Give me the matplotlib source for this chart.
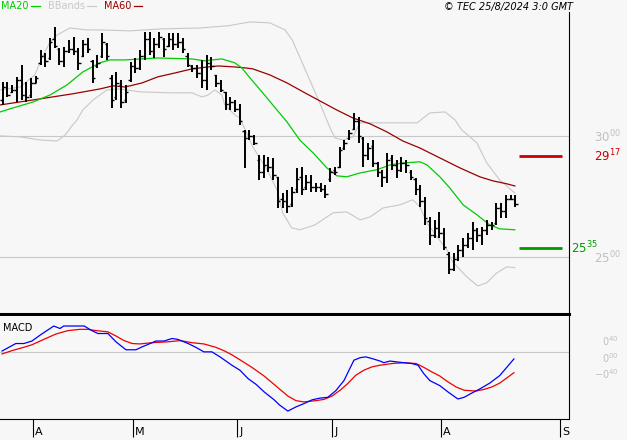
import matplotlib
matplotlib.use('Agg')
import matplotlib.pyplot as plt
from matplotlib.transforms import ScaledTranslation
import numpy as np

plt.rcParams['font.family'] = ['DejaVu Sans']

# ---------------- data (bar index = trading day, 21 Mar 2024 .. 23 Aug 2024) ----------------
opens = [31.5, 32.0, 31.8, 31.9, 32.3, 31.7, 31.7, 32.2, 33.0, 33.3,
         33.2, 34.0, 33.6, 33.1, 33.5, 33.6, 33.5, 33.3, 33.8, 33.1,
         32.9, 33.3, 33.8, 32.4, 31.6, 32.1, 31.5, 32.3, 32.9, 32.8,
         33.3, 34.0, 33.5, 33.8, 34.0, 33.7, 34.0, 33.8, 33.9, 33.3,
         32.9, 32.8, 32.6, 32.3, 33.0, 32.5, 32.2, 31.8, 31.3, 31.4,
         31.1, 30.2, 29.9, 30.0, 29.0, 28.5, 28.8, 28.7, 28.3, 27.4,
         27.3, 27.2, 27.8, 28.3, 27.9, 28.1, 27.9, 27.9, 27.8, 28.2,
         28.6, 28.7, 29.5, 29.9, 30.3, 30.6, 29.9, 29.2, 29.6, 28.9,
         28.5, 28.3, 29.1, 28.8, 28.6, 28.9, 28.5, 28.2, 27.8, 27.3,
         26.5, 25.9, 26.2, 26.0, 25.1, 24.5, 24.9, 25.3, 25.5, 25.8,
         26.1, 25.9, 26.1, 26.3, 26.4, 27.0, 26.9, 27.4, 27.4]
highs = [32.23, 32.23, 32.11, 32.44, 32.93, 32.23, 32.40, 32.48, 33.55, 33.43,
         34.05, 34.50, 33.64, 33.68, 33.97, 34.09, 33.64, 33.97, 34.05, 33.14,
         33.35, 34.26, 33.84, 32.52, 32.65, 32.31, 32.11, 33.06, 33.22, 33.55,
         34.30, 34.30, 34.05, 34.30, 34.05, 34.26, 34.26, 34.26, 34.05, 33.43,
         32.93, 32.93, 33.14, 33.35, 33.26, 32.52, 32.31, 31.82, 31.61, 31.49,
         31.32, 30.25, 30.25, 30.04, 29.22, 29.22, 29.13, 29.09, 28.31, 27.65,
         27.77, 27.89, 28.68, 28.72, 28.39, 28.39, 28.06, 28.06, 27.98, 28.68,
         28.72, 29.55, 29.83, 30.25, 30.95, 30.79, 29.96, 29.71, 29.83, 28.93,
         28.60, 29.30, 29.22, 29.01, 29.13, 29.01, 28.60, 28.27, 27.98, 27.48,
         26.65, 26.53, 26.86, 26.20, 25.21, 25.17, 25.50, 25.79, 25.99, 26.45,
         26.20, 26.24, 26.53, 26.45, 27.23, 27.23, 27.56, 27.56, 27.56]
lows = [31.28, 31.61, 31.78, 31.41, 31.49, 31.41, 31.57, 32.19, 32.93, 32.85,
        33.14, 33.64, 32.93, 32.85, 33.43, 33.35, 32.73, 33.26, 33.43, 32.19,
        32.81, 33.22, 33.14, 31.16, 31.49, 31.16, 31.36, 32.23, 32.60, 32.73,
        33.14, 33.35, 33.22, 33.64, 33.26, 33.68, 33.55, 33.64, 33.43, 32.85,
        32.65, 32.40, 31.98, 31.90, 32.73, 32.03, 31.82, 31.07, 31.07, 30.99,
        30.45, 28.68, 29.83, 29.63, 28.18, 28.27, 28.51, 28.18, 27.03, 27.03,
        26.82, 27.07, 27.65, 27.56, 27.77, 27.69, 27.69, 27.69, 27.44, 28.10,
        28.39, 28.68, 29.42, 29.83, 30.25, 29.71, 28.72, 29.01, 28.72, 28.31,
        27.89, 28.06, 28.60, 28.27, 28.51, 28.47, 28.18, 27.56, 27.07, 26.32,
        25.50, 25.79, 25.79, 25.29, 24.30, 24.42, 24.84, 25.00, 25.37, 25.29,
        25.62, 25.50, 25.91, 26.12, 26.32, 26.61, 26.61, 27.36, 27.07]
closes = [32.0, 31.7, 31.9, 32.3, 31.7, 31.6, 32.2, 32.4, 33.3, 33.1,
          33.9, 33.7, 33.1, 33.5, 33.6, 33.5, 33.0, 33.8, 33.6, 32.4,
          33.0, 33.9, 33.3, 31.5, 32.2, 31.4, 31.8, 32.9, 32.8, 33.3,
          34.0, 33.5, 33.8, 34.1, 33.6, 34.0, 33.8, 33.9, 33.6, 32.95,
          32.8, 32.6, 32.3, 33.0, 32.9, 32.2, 31.9, 31.3, 31.4, 31.1,
          30.6, 29.9, 30.0, 29.7, 28.5, 28.8, 28.7, 28.4, 27.3, 27.3,
          27.1, 27.7, 28.2, 27.8, 28.1, 27.9, 27.9, 27.8, 27.6, 28.5,
          28.5, 29.4, 29.7, 30.1, 30.6, 30.0, 29.2, 29.5, 28.9, 28.5,
          28.3, 29.0, 28.8, 28.6, 28.9, 28.8, 28.3, 27.8, 27.3, 26.6,
          25.9, 26.2, 26.0, 25.4, 24.5, 24.9, 25.3, 25.5, 25.8, 26.1,
          25.9, 26.1, 26.3, 26.3, 27.0, 26.9, 27.4, 27.4, 27.2]

ma20_x = [-0.5, 1.6, 6.4, 10, 13.6, 16.9, 20.5, 22.6, 25.8, 32.7, 39.9, 42.6, 44.1,
          46.2, 48.9, 50.4, 52.1, 54.8, 57.8, 59.9, 62.6, 65.4, 68.3, 70.4, 72.5,
          75.3, 78.8, 81.6, 84.3, 87.9, 89.4, 92.1, 94.2, 97, 99.9, 102.6, 104.7, 107.9]
ma20 = [30.99, 31.12, 31.40, 31.69, 32.11, 32.64, 33.02, 33.14, 33.14, 33.22, 33.18,
        33.10, 33.14, 33.18, 33.02, 32.81, 32.40, 31.78, 31.07, 30.58, 29.83, 29.30,
        28.68, 28.35, 28.31, 28.47, 28.60, 28.80, 28.88, 28.93, 28.80, 28.31, 27.85,
        27.15, 26.74, 26.32, 26.16, 26.12]

ma60_x = [-0.5, 7.9, 14.8, 20.5, 23.3, 25.8, 29.4, 32.7, 36.3, 39.9, 43.3, 45.4, 48.9,
          51.1, 52.7, 56.3, 59.9, 63.3, 66.8, 70.4, 73.8, 77.4, 80.9, 84.3, 87.9, 92.1,
          96.3, 100.5, 103.3, 106.2, 107.9]
ma60 = [31.28, 31.53, 31.74, 31.94, 32.07, 32.02, 32.19, 32.44, 32.60, 32.77, 32.85,
        32.89, 32.85, 32.81, 32.77, 32.52, 32.19, 31.82, 31.45, 31.07, 30.74, 30.50,
        30.17, 29.79, 29.50, 29.09, 28.68, 28.31, 28.14, 28.02, 27.93]

bb_up_x = [-0.5, 3.7, 6.8, 8.3, 10, 11.5, 14.2, 17.8, 20.5, 26.8, 33.2, 41.6, 47.5, 52.1,
           56.3, 59.5, 61, 62.6, 64.7, 66.8, 68.9, 70, 71.7, 73.8, 75.3, 80.1, 87.3, 90,
           93.2, 95.3, 96.7, 99.9, 102, 104.7, 107.9]
bb_up = [31.90, 32.02, 32.52, 33.22, 33.88, 34.17, 34.46, 34.38, 34.38, 34.34, 34.42,
         34.46, 34.55, 34.71, 34.67, 34.38, 33.97, 33.26, 32.31, 31.36, 30.37, 29.92,
         29.83, 29.96, 30.54, 30.54, 30.54, 30.95, 30.99, 30.66, 30.25, 29.71, 28.88,
         28.18, 27.64]

bb_lo_x = [-0.5, 3.7, 7.9, 11.5, 13.2, 14.6, 15.7, 16.9, 19.1, 22, 24.7, 28.9, 35.3, 39.9,
           42, 43.3, 44.7, 46.2, 46.8, 48.9, 50, 52.7, 55.7, 57.8, 59, 60.9, 62.6, 65.8,
           69.6, 72.5, 75.3, 77.4, 80.1, 83.7, 86.4, 87.9, 89.4, 91.5, 93.6, 94.8, 97.8,
           100.1, 102, 104.1, 106.2, 107.9]
bb_lo = [30.00, 29.96, 29.83, 29.79, 30.04, 30.41, 30.66, 31.07, 31.49, 31.90, 31.94,
         31.82, 31.78, 31.78, 31.61, 31.69, 31.90, 31.69, 31.28, 30.87, 30.74, 29.55,
         28.60, 27.77, 26.82, 26.20, 26.12, 26.32, 26.82, 26.86, 26.53, 26.65, 27.02,
         27.15, 27.36, 27.07, 26.40, 25.83, 25.29, 24.79, 24.17, 23.80, 23.93, 24.34,
         24.59, 24.55]

macd_x = [-0.1, 2.8, 4.5, 6.2, 7.9, 10.8, 12.1, 12.9, 17.2, 18.8, 20.1, 22.2, 23.9, 26.0,
          28.1, 29.4, 31.1, 32.3, 34.0, 35.7, 36.9, 39.1, 40.7, 42.4, 44.1, 45.8, 48.3,
          50.0, 51.7, 53.4, 55.1, 57.2, 58.4, 60.1, 61.8, 63.5, 65.2, 66.8, 68.5, 70.2,
          71.9, 74.0, 75.3, 76.5, 77.8, 79.5, 80.3, 81.6, 83.7, 86.2, 87.5, 88.7, 90.0,
          92.1, 93.8, 95.9, 97.2, 98.8, 100.5, 102.6, 104.7, 107.7]
macd = [0.03, 0.21, 0.21, 0.27, 0.41, 0.63, 0.57, 0.63, 0.63, 0.52, 0.45, 0.45, 0.25,
        0.06, 0.06, 0.13, 0.21, 0.27, 0.27, 0.33, 0.31, 0.21, 0.12, 0.01, 0.01, -0.11,
        -0.31, -0.43, -0.63, -0.77, -0.95, -1.14, -1.27, -1.41, -1.31, -1.23, -1.14,
        -1.10, -1.08, -0.92, -0.68, -0.19, -0.13, -0.11, -0.15, -0.21, -0.25, -0.21,
        -0.24, -0.27, -0.31, -0.51, -0.68, -0.80, -0.95, -1.12, -1.08, -0.98, -0.88,
        -0.74, -0.56, -0.16]

signal_x = [-0.1, 2.0, 4.5, 6.2, 8.7, 11.3, 13.8, 16.3, 18.0, 19.7, 22.2, 23.9, 25.6,
            27.3, 28.9, 31.5, 34.8, 37.4, 39.9, 42.4, 44.9, 46.6, 48.3, 50.0, 52.5, 55.1,
            57.6, 60.1, 61.8, 63.5, 66.0, 67.7, 69.4, 71.1, 72.7, 74.4, 76.1, 77.8, 79.5,
            82.0, 84.5, 87.1, 88.7, 90.4, 92.1, 93.8, 95.5, 97.2, 99.7, 101.4, 103.1,
            104.7, 107.7]
signal = [-0.04, 0.04, 0.12, 0.18, 0.31, 0.44, 0.52, 0.55, 0.55, 0.52, 0.49, 0.39, 0.28,
          0.21, 0.20, 0.23, 0.25, 0.28, 0.23, 0.20, 0.12, 0.04, -0.06, -0.18, -0.36,
          -0.57, -0.81, -1.05, -1.16, -1.19, -1.16, -1.13, -1.05, -0.91, -0.75, -0.55,
          -0.43, -0.35, -0.31, -0.27, -0.25, -0.27, -0.36, -0.47, -0.57, -0.71, -0.83,
          -0.91, -0.93, -0.89, -0.83, -0.74, -0.49]

resistance = 29.17
support = 25.35
price_ticks = [25.0, 30.0]
price_labels = ['$\\mathregular{25^{00}}$', '$\\mathregular{30^{00}}$']
macd_ticks = [0.4, 0.0, -0.4]
macd_labels = ['$\\mathregular{0^{40}}$', '$\\mathregular{0^{00}}$', '$\\mathregular{-0^{40}}$']
month_pos = [6.4, 27.5, 49.4, 69.4, 92.3, 117.4]
month_labels = ['A', 'M', 'J', 'J', 'A', 'S']

# ---------------- figure ----------------
BG = '#f7f7f7'
W, H = 627, 440
fig = plt.figure(figsize=(W / 100, H / 100), dpi=100, facecolor=BG)


def fx(px):
    return px / W


def fy(py):
    return 1 - py / H


ax = fig.add_axes([0, fy(314), fx(569), fy(12) - fy(314)], facecolor=BG)
axm = fig.add_axes([0, fy(419), fx(569), fy(316) - fy(419)], facecolor=BG)

XL = (-0.53, 119.3)

# main panel
ax.set_xlim(*XL)
ax.set_ylim(22.64, 35.12)
x = np.arange(len(closes))
ax.plot(bb_up_x, bb_up, color='#c8c8c8', lw=0.8, label='BBands', zorder=2)
ax.plot(bb_lo_x, bb_lo, color='#c8c8c8', lw=0.8, zorder=2)
ax.plot(ma60_x, ma60, color='#990000', lw=0.9, label='MA60', zorder=3)
ax.plot(ma20_x, ma20, color='#00cc00', lw=0.9, label='MA20', zorder=3)
ax.vlines(x, lows, highs, color='black', lw=1.4, zorder=4)
ax.hlines(opens, x - 0.5, x, color='black', lw=1.0, zorder=4)
ax.hlines(closes, x, x + 0.5, color='black', lw=1.0, zorder=4)
ax.hlines(resistance, 108.7, 117.8, color='#cc0000', lw=2.0, zorder=4)
ax.hlines(support, 108.7, 117.8, color='#009900', lw=2.0, zorder=4)

ax.set_yticks(price_ticks)
ax.set_yticklabels(price_labels)
ax.yaxis.tick_right()
ax.tick_params(axis='y', length=0, pad=18, labelsize=8.5, labelcolor='#c0c0c0')
ax.grid(axis='y', color='#c8c8c8', lw=0.8)
ax.set_axisbelow(True)
ax.set_xticks([])
for s in ('top', 'left'):
    ax.spines[s].set_visible(False)
ax.spines['right'].set_color('black')
ax.spines['right'].set_linewidth(0.8)
ax.spines['bottom'].set_color('black')
ax.spines['bottom'].set_linewidth(2.2)

ax.text(fx(594) / fx(569), resistance, f'$\\mathregular{{{int(resistance)}^{{{round(resistance % 1 * 100):02d}}}}}$',
        transform=ax.get_yaxis_transform(), color='#cc0000', fontsize=8.5, va='center', ha='left')
ax.text(fx(571) / fx(569), support, f'$\\mathregular{{{int(support)}^{{{round(support % 1 * 100):02d}}}}}$',
        transform=ax.get_yaxis_transform(), color='#009900', fontsize=8.5, va='center', ha='left')

handles, labels = ax.get_legend_handles_labels()
order = [labels.index('MA20'), labels.index('BBands'), labels.index('MA60')]
fig.legend([handles[i] for i in order], [labels[i] for i in order],
           loc='upper left', bbox_to_anchor=(0.0, 1.0), ncol=3, frameon=False,
           markerfirst=False, fontsize=7, handlelength=0.9, handletextpad=0.25,
           columnspacing=0.8, borderpad=0.15, borderaxespad=0.0, labelcolor='linecolor')

fig.text(fx(573), fy(7), '\u00a9 TEC 25/8/2024 3:0 GMT', ha='right', va='center',
         fontsize=7, style='italic', color='black')

# MACD panel
axm.set_xlim(*XL)
axm.set_ylim(-1.60, 0.87)
axm.axhline(0, color='#c8c8c8', lw=0.8, zorder=1)
axm.plot(signal_x, signal, color='#ee0000', lw=0.9, zorder=3)
axm.plot(macd_x, macd, color='#0000ff', lw=0.9, zorder=3)
axm.text(fx(3) / fx(569), 0.88, 'MACD', transform=axm.transAxes, fontsize=7, va='center', ha='left')

axm.set_yticks(macd_ticks)
axm.set_yticklabels(macd_labels)
axm.yaxis.tick_right()
axm.tick_params(axis='y', length=0, pad=36, labelsize=7, labelcolor='#c0c0c0')
for lab in axm.get_yticklabels():
    lab.set_ha('right')
    lab.set_transform(lab.get_transform() + ScaledTranslation(0, -4.4 / 100, fig.dpi_scale_trans))

axm.set_xticks(month_pos)
axm.set_xticklabels(month_labels)
axm.tick_params(axis='x', length=13, width=0.8, color='black', pad=-7, labelsize=8)
for lab in axm.get_xticklabels():
    lab.set_ha('left')
    lab.set_transform(lab.get_transform() + ScaledTranslation(2 / 100, 0, fig.dpi_scale_trans))

for s in ('top', 'left'):
    axm.spines[s].set_visible(False)
axm.spines['right'].set_linewidth(0.8)
axm.spines['bottom'].set_linewidth(0.8)

fig.savefig('out.png', dpi=100, facecolor=BG)
